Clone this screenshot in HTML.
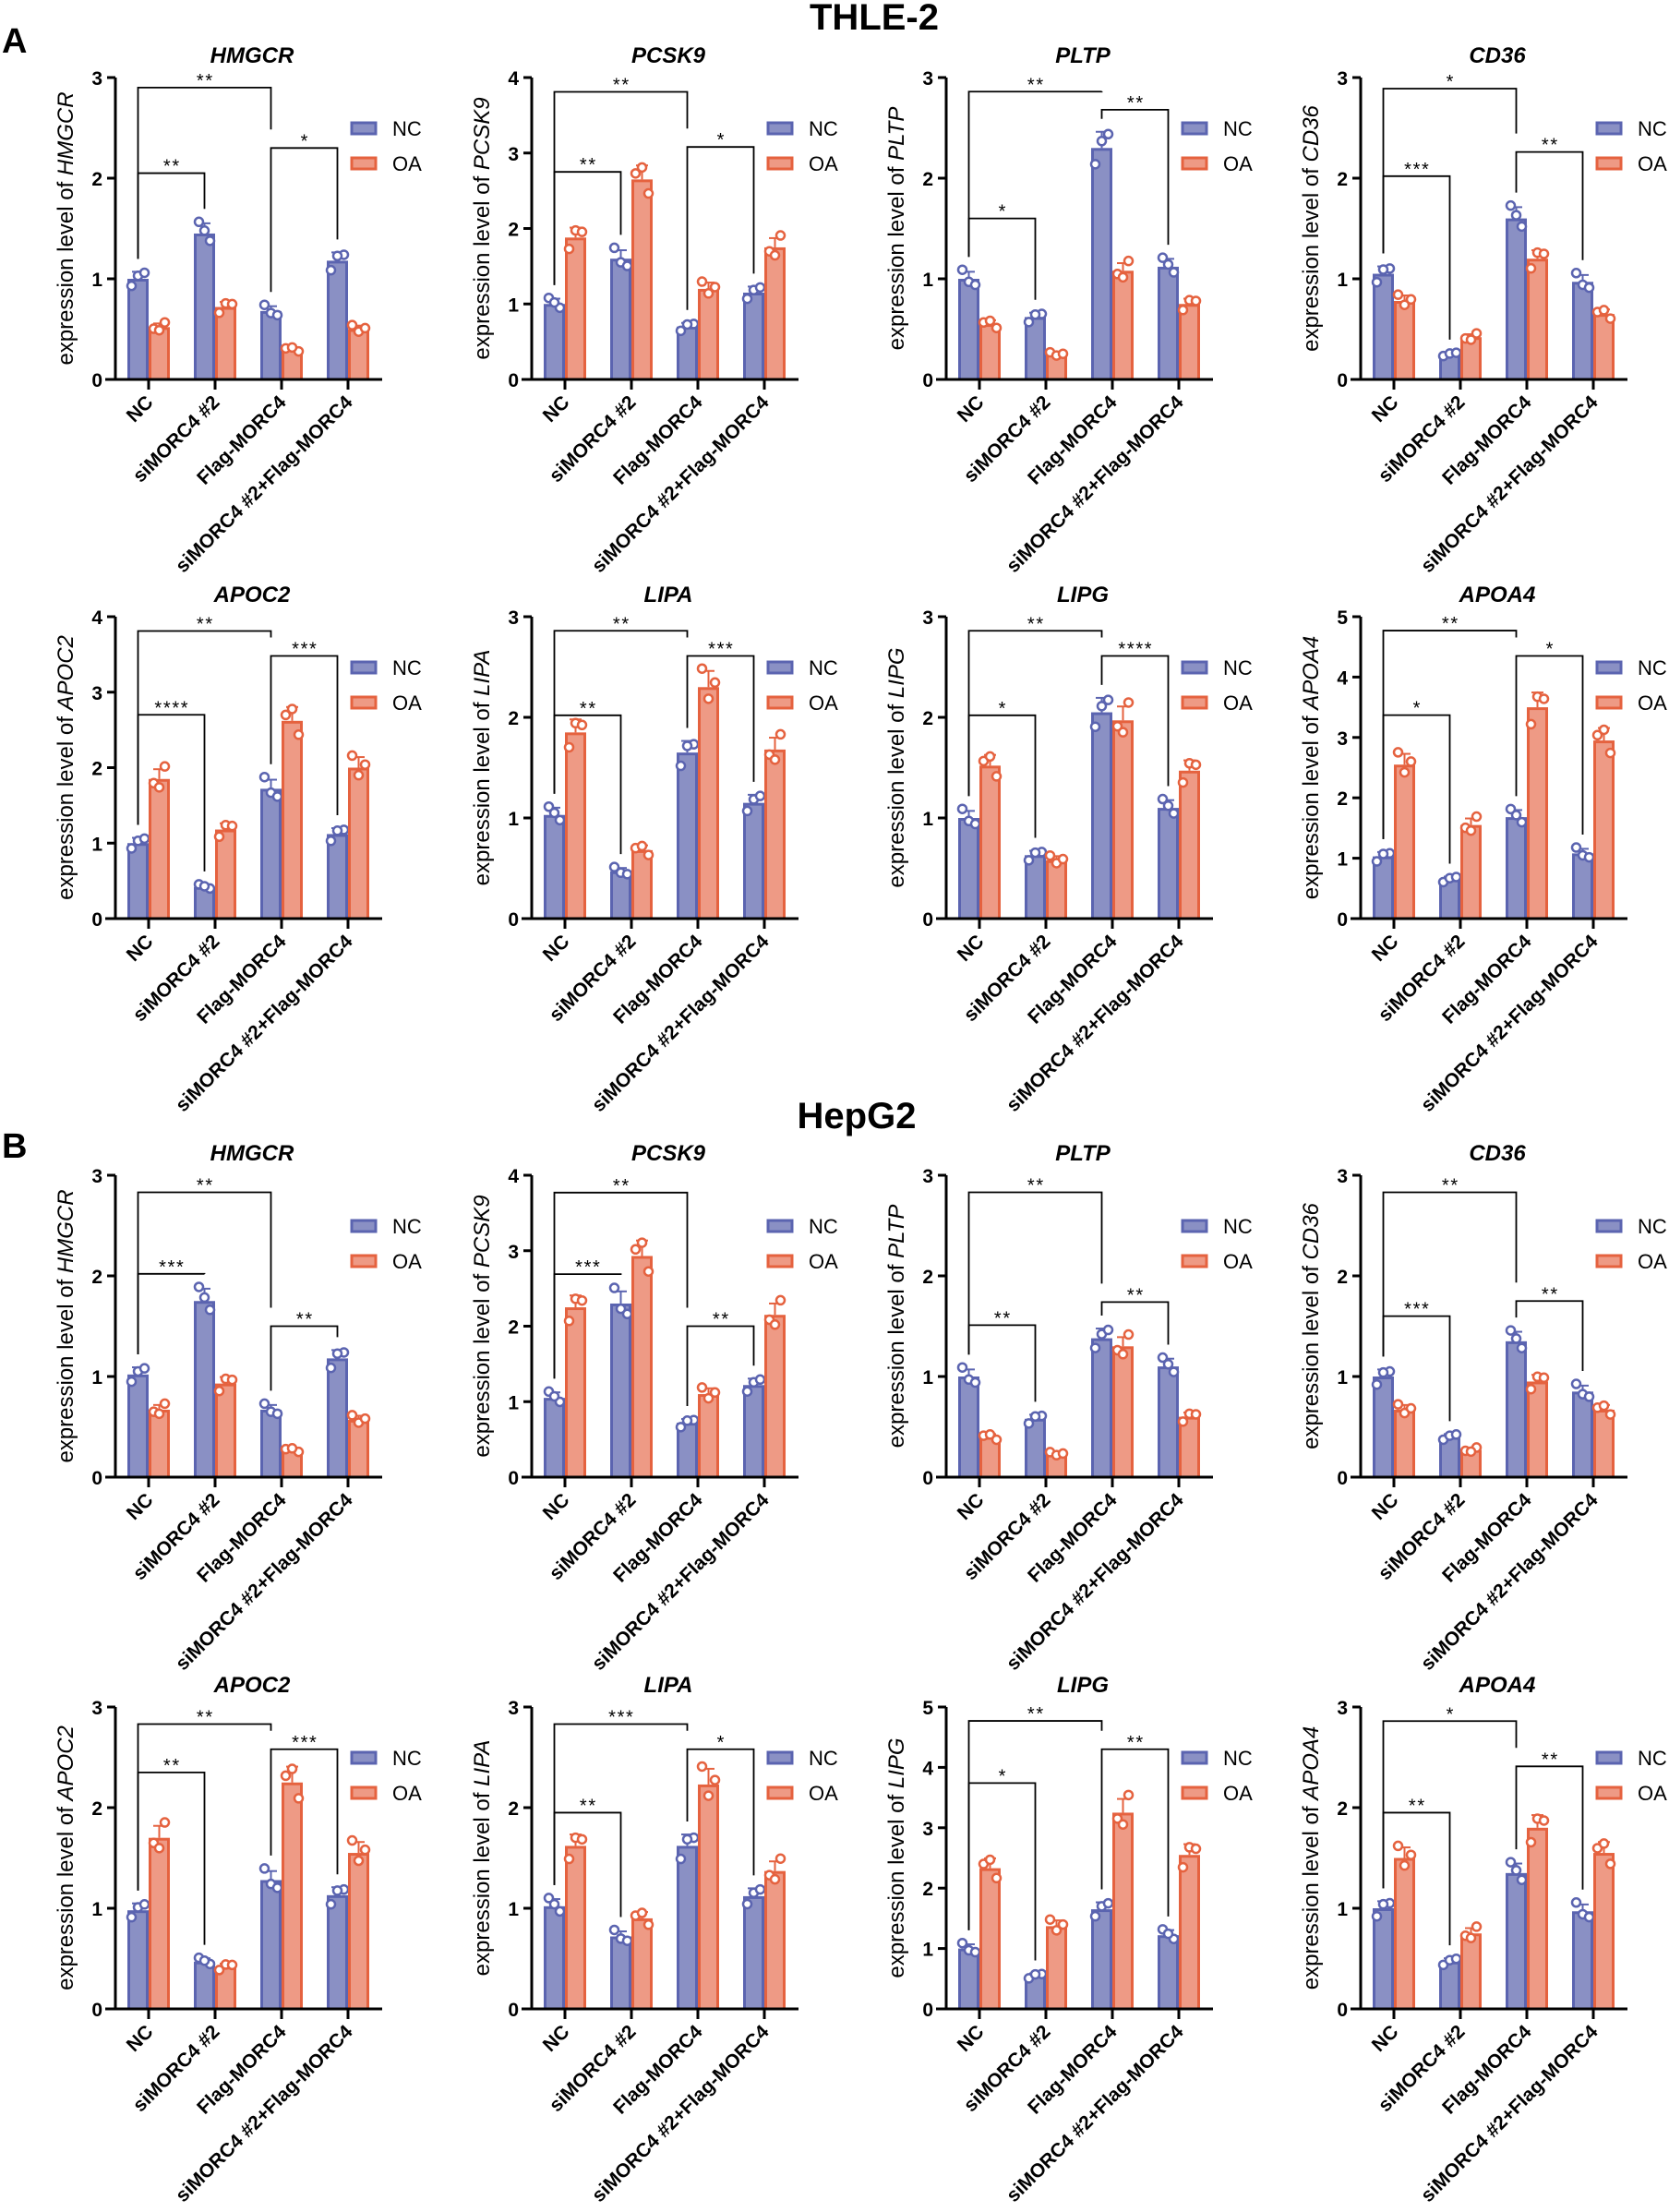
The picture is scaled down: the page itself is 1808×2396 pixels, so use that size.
<!DOCTYPE html>
<html><head><meta charset="utf-8">
<style>
html,body{margin:0;padding:0;background:#fff;}
svg{display:block;font-family:"Liberation Sans",Arial,sans-serif;}
</style></head>
<body>
<svg id="s" width="1808" height="2396" xmlns="http://www.w3.org/2000/svg"></svg>
<script>
const P=[
 ["HMGCR",3,[1.0,1.45,0.68,1.18],[0.52,0.72,0.3,0.5],[[0,2,2.9,"**"],[0,1,2.05,"**"],[2,3,2.3,"*"]]],
 ["PCSK9",4,[1.0,1.6,0.7,1.15],[1.88,2.65,1.2,1.75],[[0,2,3.81,"**"],[0,1,2.75,"**"],[2,3,3.08,"*"]]],
 ["PLTP",3,[1.0,0.62,2.3,1.12],[0.55,0.25,1.08,0.75],[[0,2,2.86,"**"],[0,1,1.6,"*"],[2,3,2.68,"**"]]],
 ["CD36",3,[1.05,0.25,1.6,0.97],[0.78,0.42,1.2,0.65],[[0,2,2.89,"*"],[0,1,2.02,"***"],[2,3,2.26,"**"]]],
 ["APOC2",4,[1.0,0.42,1.72,1.12],[1.85,1.18,2.62,2.0],[[0,2,3.81,"**"],[0,1,2.7,"****"],[2,3,3.48,"***"]]],
 ["LIPA",3,[1.03,0.47,1.65,1.15],[1.85,0.68,2.3,1.68],[[0,2,2.86,"**"],[0,1,2.02,"**"],[2,3,2.61,"***"]]],
 ["LIPG",3,[1.0,0.63,2.05,1.1],[1.52,0.58,1.97,1.47],[[0,2,2.86,"**"],[0,1,2.02,"*"],[2,3,2.61,"****"]]],
 ["APOA4",5,[1.03,0.65,1.68,1.08],[2.55,1.55,3.5,2.95],[[0,2,4.77,"**"],[0,1,3.37,"*"],[2,3,4.35,"*"]]],
 ["HMGCR",3,[1.02,1.75,0.67,1.18],[0.67,0.93,0.27,0.57],[[0,2,2.83,"**"],[0,1,2.02,"***"],[2,3,1.5,"**"]]],
 ["PCSK9",4,[1.05,2.3,0.72,1.22],[2.25,2.93,1.1,2.15],[[0,2,3.77,"**"],[0,1,2.69,"***"],[2,3,2.0,"**"]]],
 ["PLTP",3,[1.0,0.58,1.38,1.1],[0.4,0.23,1.3,0.6],[[0,2,2.83,"**"],[0,1,1.51,"**"],[2,3,1.74,"**"]]],
 ["CD36",3,[1.0,0.4,1.35,0.85],[0.67,0.27,0.95,0.67],[[0,2,2.83,"**"],[0,1,1.6,"***"],[2,3,1.75,"**"]]],
 ["APOC2",3,[0.98,0.47,1.28,1.13],[1.7,0.42,2.25,1.55],[[0,2,2.83,"**"],[0,1,2.35,"**"],[2,3,2.58,"***"]]],
 ["LIPA",3,[1.02,0.72,1.62,1.12],[1.62,0.9,2.23,1.37],[[0,2,2.83,"***"],[0,1,1.95,"**"],[2,3,2.58,"*"]]],
 ["LIPG",5,[1.0,0.55,1.65,1.22],[2.33,1.37,3.25,2.55],[[0,2,4.77,"**"],[0,1,3.74,"*"],[2,3,4.3,"**"]]],
 ["APOA4",3,[1.0,0.47,1.35,0.97],[1.5,0.75,1.8,1.55],[[0,2,2.86,"*"],[0,1,1.95,"**"],[2,3,2.41,"**"]]]
];
const AX=[125,576,1025,1474], TOP=[84,668,1273,1849], H=327;
const cats=["NC","siMORC4 #2","Flag-MORC4","siMORC4 #2+Flag-MORC4"];
const NCf="#8a90c4",NCs="#5b64b0",OAf="#ee9a85",OAs="#e5623f";
const pats=[[-0.07,0.03,0.06],[0.08,-0.05,0.02],[-0.03,0.09,-0.06],[0.05,-0.08,0.04]];
const dx=[[-7,0,7],[-6,6,0],[0,-7,7],[7,-7,0]];
let o="";
o+=`<text x="947" y="32" font-size="40" font-weight="bold" text-anchor="middle">THLE-2</text>`;
o+=`<text x="928" y="1222" font-size="40" font-weight="bold" text-anchor="middle">HepG2</text>`;
o+=`<text x="2" y="57" font-size="38" font-weight="bold">A</text>`;
o+=`<text x="2" y="1254" font-size="38" font-weight="bold">B</text>`;
P.forEach((p,i)=>{
 const [g,mx,nc,oa,br]=p; const ax=AX[i%4], top=TOP[Math.floor(i/4)], y0=top+H;
 const Y=v=>y0-v/mx*H;
 o+=`<text x="${ax+148}" y="${top-16}" font-size="24" font-weight="bold" font-style="italic" text-anchor="middle">${g}</text>`;
 o+=`<text transform="translate(${ax-46},${top+H/2}) rotate(-90)" font-size="24" text-anchor="middle">expression level of <tspan font-style="italic">${g}</tspan></text>`;
 for(let t=0;t<=mx;t++){const y=Y(t);
  o+=`<line x1="${ax-9}" y1="${y}" x2="${ax}" y2="${y}" stroke="#000" stroke-width="3"/>`;
  o+=`<text x="${ax-14}" y="${y+8}" font-size="21" font-weight="bold" text-anchor="end">${t}</text>`;}
 const tops=[];
 for(let k=0;k<4;k++){const gx=ax+36+72*k;
  [[nc[k],gx-23,NCf,NCs],[oa[k],gx,OAf,OAs]].forEach(([v,x,f,s],j)=>{
   const pt=pats[(k+j*2+i)%4], d=dx[(k+j+i)%4];
   o+=`<rect x="${x+1.5}" y="${Y(v)+1.5}" width="20" height="${y0-Y(v)-1.5}" fill="${f}" stroke="${s}" stroke-width="3"/>`;
   const sd=v*0.07;
   o+=`<line x1="${x+11.5}" y1="${Y(v)}" x2="${x+11.5}" y2="${Y(v+sd)}" stroke="${s}" stroke-width="2"/><line x1="${x+5}" y1="${Y(v+sd)}" x2="${x+18}" y2="${Y(v+sd)}" stroke="${s}" stroke-width="2"/>`;
   let mxv=v+sd;
   pt.forEach((e,q)=>{const vv=v*(1+e);mxv=Math.max(mxv,vv);
    o+=`<circle cx="${x+11.5+d[q]}" cy="${Y(vv)}" r="4.5" fill="#fff" stroke="${s}" stroke-width="2.5"/>`;});
   if(j==0)tops[k]=Y(mxv)-14;
  });
  o+=`<line x1="${gx}" y1="${y0}" x2="${gx}" y2="${y0+11}" stroke="#000" stroke-width="3"/>`;
  o+=`<text transform="translate(${gx+6},${y0+26}) rotate(-45)" font-size="21" font-weight="bold" text-anchor="end">${cats[k]}</text>`;
 }
 o+=`<line x1="${ax}" y1="${top}" x2="${ax}" y2="${y0+1.5}" stroke="#000" stroke-width="3"/>`;
 o+=`<line x1="${ax-11}" y1="${y0}" x2="${ax+289}" y2="${y0}" stroke="#000" stroke-width="3"/>`;
 br.forEach(b=>{const [a,c,h,lab]=b; const yb=Y(h);
  const xa=ax+36+72*a-11.5, xc=ax+36+72*c-11.5;
  let ba=tops[a], bc=tops[c];
  br.forEach(b2=>{if(b2!==b&&b2[0]==c&&b2[2]<h){bc=Math.min(bc,Y(b2[2])-20);}});
  o+=`<polyline points="${xa},${ba} ${xa},${yb} ${xc},${yb} ${xc},${bc}" fill="none" stroke="#000" stroke-width="1.8"/>`;
  o+=`<text x="${(xa+xc)/2}" y="${yb-1}" font-size="20" text-anchor="middle">${lab.split("").join("\u200A")}</text>`;
 });
 const ly=top+55;
 o+=`<rect x="${ax+256}" y="${ly-6}" width="26" height="12" fill="${NCf}" stroke="${NCs}" stroke-width="3"/>`;
 o+=`<rect x="${ax+256}" y="${ly+32}" width="26" height="12" fill="${OAf}" stroke="${OAs}" stroke-width="3"/>`;
 o+=`<text x="${ax+300}" y="${ly+8}" font-size="22">NC</text><text x="${ax+300}" y="${ly+46}" font-size="22">OA</text>`;
});
document.getElementById("s").innerHTML=o;
</script>
</body></html>
